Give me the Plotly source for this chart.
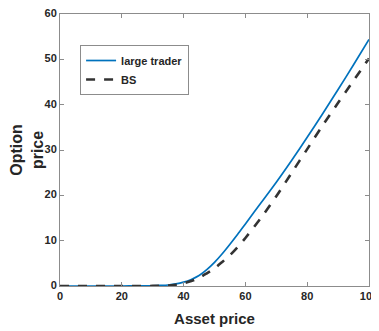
import plotly.graph_objects as go

asset_price = [0, 5, 10, 15, 20, 25, 30, 32.5, 35, 37.5, 40, 42.5, 45, 47.5, 50, 52.5, 55, 57.5, 60,
               65, 70, 75, 80, 85, 90, 95, 100]
large_trader = [0, 0, 0, 0, 0, 0.02, 0.06, 0.12, 0.22, 0.45, 0.85, 1.45, 2.3, 3.6, 5.2, 7.1, 9.2, 11.4, 13.7,
                18.3, 22.9, 27.75, 32.8, 38.0, 43.35, 48.8, 54.4]
bs = [0, 0, 0, 0, 0, 0.01, 0.02, 0.05, 0.1, 0.28, 0.6, 1.1, 1.8, 2.8, 3.9, 5.3, 6.8, 8.6, 10.6,
      15.0, 19.8, 25.0, 30.2, 35.4, 40.4, 45.3, 50.2]

x_ticks = [0, 20, 40, 60, 80, 100]
y_ticks = [0, 10, 20, 30, 40, 50, 60]

fig = go.Figure()
fig.add_trace(go.Scatter(x=asset_price, y=large_trader, mode="lines", name="large trader",
                         line=dict(color="#0072BD", width=1.7, shape="spline", smoothing=0.8)))
fig.add_trace(go.Scatter(x=asset_price, y=bs, mode="lines", name="BS",
                         line=dict(color="#333333", width=2.6, dash="dash", shape="spline", smoothing=0.8)))

axis_common = dict(showgrid=False, zeroline=False, showline=True, linecolor="#8c8c8c", linewidth=1,
                   mirror="ticks", ticks="inside", ticklen=4, tickcolor="#8c8c8c", automargin=False,
                   ticklabeloverflow="allow",
                   tickfont=dict(family="Liberation Sans, Arial", size=11, color="#262626", weight="bold"))

# page body has an 8px margin, so the figure is shrunk and margins shifted accordingly
fig.update_layout(
    width=371, height=323,
    margin=dict(l=52, r=10, t=6, b=45),
    plot_bgcolor="white", paper_bgcolor="white",
    xaxis=dict(range=[0, 100], tickvals=x_ticks, **axis_common,
               title=dict(text="Asset price", standoff=12,
                          font=dict(family="Liberation Sans, Arial", size=15, color="#262626", weight="bold"))),
    yaxis=dict(range=[0, 60], tickvals=y_ticks, ticklabelshift=-1, **axis_common,
               title=dict(text="Option<br>price", standoff=7,
                          font=dict(family="Liberation Sans, Arial", size=16, color="#262626", weight="bold"))),
    legend=dict(x=0.065, y=0.886, xanchor="left", yanchor="top",
                bgcolor="white", bordercolor="#8c8c8c", borderwidth=1,
                font=dict(family="Liberation Sans, Arial", size=11, color="#262626", weight="bold"),
                itemwidth=30, tracegroupgap=0),
    showlegend=True,
)

fig.write_html("out.html")
